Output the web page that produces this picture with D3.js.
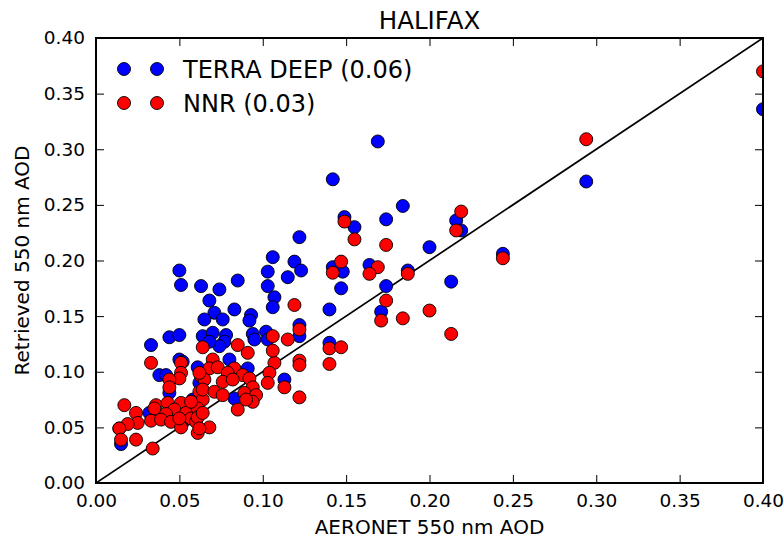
<!DOCTYPE html>
<html><head><meta charset="utf-8">
<script src="https://cdn.jsdelivr.net/npm/d3@7"></script>
<style>
body{margin:0;background:#fff}
svg{display:block}
text{font-family:"DejaVu Sans",sans-serif;fill:#000}
</style>
</head><body>
<svg id="chart" width="784" height="540"></svg>
<script>
const chartTitle = "HALIFAX";
const xLabel = "AERONET 550 nm AOD";
const yLabel = "Retrieved 550 nm AOD";
const seriesNames = ["TERRA DEEP (0.06)", "NNR (0.03)"];
const seriesColors = ["#0000ff", "#ff0000"];
const tickValues = [0.00, 0.05, 0.10, 0.15, 0.20, 0.25, 0.30, 0.35, 0.40];
const tickLabels = ["0.00","0.05","0.10","0.15","0.20","0.25","0.30","0.35","0.40"];

// TERRA DEEP (blue)
const terraX = [0.400,0.294,0.244,0.216,0.219,0.213,0.200,0.184,0.169,0.174,0.174,0.171,0.187,0.164,0.142,0.149,0.155,0.142,0.148,0.147,0.140,0.140,0.122,0.119,0.123,0.115,0.122,0.122,0.106,0.103,0.103,0.107,0.106,0.085,0.074,0.063,0.051,0.050,0.068,0.083,0.071,0.065,0.076,0.093,0.092,0.044,0.050,0.064,0.070,0.078,0.094,0.102,0.033,0.095,0.103,0.077,0.074,0.068,0.080,0.091,0.050,0.061,0.038,0.042,0.044,0.058,0.032,0.052,0.015,0.014,0.057,0.113,0.083,0.062,0.052];
const terraY = [0.336,0.271,0.206,0.236,0.227,0.181,0.212,0.249,0.307,0.237,0.177,0.154,0.191,0.196,0.273,0.239,0.230,0.194,0.190,0.175,0.156,0.126,0.221,0.199,0.191,0.185,0.142,0.132,0.203,0.190,0.177,0.167,0.158,0.182,0.174,0.177,0.178,0.191,0.164,0.156,0.153,0.147,0.147,0.151,0.146,0.131,0.133,0.132,0.135,0.133,0.134,0.136,0.124,0.129,0.129,0.127,0.123,0.127,0.111,0.103,0.111,0.104,0.097,0.097,0.081,0.075,0.063,0.054,0.035,0.049,0.073,0.093,0.076,0.090,0.109];

// NNR (red)
const nnrX = [0.400,0.294,0.219,0.216,0.244,0.187,0.200,0.184,0.213,0.149,0.155,0.174,0.147,0.142,0.169,0.164,0.174,0.119,0.171,0.122,0.115,0.140,0.147,0.106,0.122,0.122,0.107,0.106,0.085,0.091,0.064,0.070,0.033,0.051,0.051,0.050,0.044,0.063,0.044,0.062,0.064,0.036,0.043,0.051,0.017,0.024,0.035,0.047,0.042,0.054,0.033,0.039,0.045,0.051,0.057,0.060,0.061,0.025,0.019,0.014,0.015,0.024,0.034,0.068,0.073,0.083,0.079,0.088,0.092,0.104,0.065,0.076,0.082,0.094,0.103,0.113,0.064,0.071,0.076,0.089,0.096,0.094,0.122,0.085,0.061,0.061,0.064,0.068,0.062,0.140,0.050,0.090,0.062,0.057];
const nnrY = [0.370,0.309,0.244,0.227,0.202,0.188,0.155,0.148,0.134,0.235,0.219,0.214,0.199,0.189,0.194,0.188,0.164,0.160,0.146,0.138,0.129,0.121,0.122,0.132,0.110,0.106,0.108,0.119,0.124,0.117,0.122,0.111,0.108,0.108,0.099,0.094,0.093,0.096,0.086,0.082,0.075,0.070,0.072,0.072,0.070,0.063,0.067,0.066,0.062,0.063,0.056,0.057,0.055,0.050,0.058,0.055,0.045,0.054,0.053,0.049,0.039,0.039,0.031,0.103,0.104,0.103,0.099,0.097,0.094,0.099,0.093,0.091,0.093,0.086,0.090,0.086,0.084,0.082,0.079,0.081,0.079,0.073,0.077,0.066,0.067,0.059,0.063,0.050,0.049,0.107,0.058,0.075,0.099,0.073];

const series = [
  {name: seriesNames[0], color: seriesColors[0], pts: terraX.map((x,i)=>({x, y: terraY[i]}))},
  {name: seriesNames[1], color: seriesColors[1], pts: nnrX.map((x,i)=>({x, y: nnrY[i]}))}
];

const W = 784, H = 540;
const margin = {left: 96, right: 21, top: 38, bottom: 57};
const iw = W - margin.left - margin.right;
const ih = H - margin.top - margin.bottom;
const R = 6.5;

const svg = d3.select("#chart");
const x = d3.scaleLinear().domain([0, 0.4]).range([0, iw]);
const y = d3.scaleLinear().domain([0, 0.4]).range([ih, 0]);

const g = svg.append("g").attr("transform", `translate(${margin.left},${margin.top})`);

svg.append("defs").append("clipPath").attr("id", "clip")
  .append("rect").attr("x", 0).attr("y", 0).attr("width", iw).attr("height", ih);

const plot = g.append("g").attr("clip-path", "url(#clip)");

// 1:1 line
plot.append("line")
  .attr("x1", x(0)).attr("y1", y(0)).attr("x2", x(0.4)).attr("y2", y(0.4))
  .attr("stroke", "#000").attr("stroke-width", 1.7);

series.forEach(s => {
  plot.append("g").selectAll("circle").data(s.pts).join("circle")
    .attr("cx", d => x(d.x)).attr("cy", d => y(d.y)).attr("r", R)
    .attr("fill", s.color).attr("stroke", "#000").attr("stroke-width", 0.9);
});

const fmt = (d) => tickLabels[tickValues.findIndex(v => Math.abs(v - d) < 1e-9)];

function styleAxis(sel, showLabels, fontSize) {
  sel.select(".domain").remove();
  sel.selectAll(".tick line").attr("stroke", "#000").attr("stroke-width", 1);
  if (!showLabels) sel.selectAll(".tick text").remove();
  else sel.selectAll(".tick text").attr("font-size", fontSize).attr("font-family", '"DejaVu Sans",sans-serif').attr("fill", "#000");
}

const tickFont = 18.5;
g.append("g").attr("transform", `translate(0,${ih})`)
  .call(d3.axisBottom(x).tickValues(tickValues).tickFormat(fmt).tickSize(-8).tickPadding(11))
  .call(a => styleAxis(a, true, tickFont));
g.append("g")
  .call(d3.axisTop(x).tickValues(tickValues).tickSize(-8))
  .call(a => styleAxis(a, false));
g.append("g")
  .call(d3.axisLeft(y).tickValues(tickValues).tickFormat(fmt).tickSize(-8).tickPadding(11))
  .call(a => styleAxis(a, true, tickFont));
g.append("g").attr("transform", `translate(${iw},0)`)
  .call(d3.axisRight(y).tickValues(tickValues).tickSize(-8))
  .call(a => styleAxis(a, false));

// frame
g.append("rect").attr("x", 0).attr("y", 0).attr("width", iw).attr("height", ih)
  .attr("fill", "none").attr("stroke", "#000").attr("stroke-width", 2);

// titles
svg.append("text").attr("x", margin.left + iw/2).attr("y", 29)
  .attr("text-anchor", "middle").attr("font-size", 24.5).text(chartTitle);
svg.append("text").attr("x", margin.left + iw/2).attr("y", 534)
  .attr("text-anchor", "middle").attr("font-size", 20).text(xLabel);
svg.append("text").attr("transform", `translate(29,${margin.top + ih/2}) rotate(-90)`)
  .attr("text-anchor", "middle").attr("font-size", 20).text(yLabel);

// legend
const leg = svg.append("g");
series.forEach((s, i) => {
  const cy = 69 + i * 34;
  [124, 157].forEach(cx => {
    leg.append("circle").attr("cx", cx).attr("cy", cy).attr("r", R)
      .attr("fill", s.color).attr("stroke", "#000").attr("stroke-width", 0.9);
  });
  leg.append("text").attr("x", 183).attr("y", cy + 9)
    .attr("font-size", 24).text(s.name);
});
</script>
</body></html>
